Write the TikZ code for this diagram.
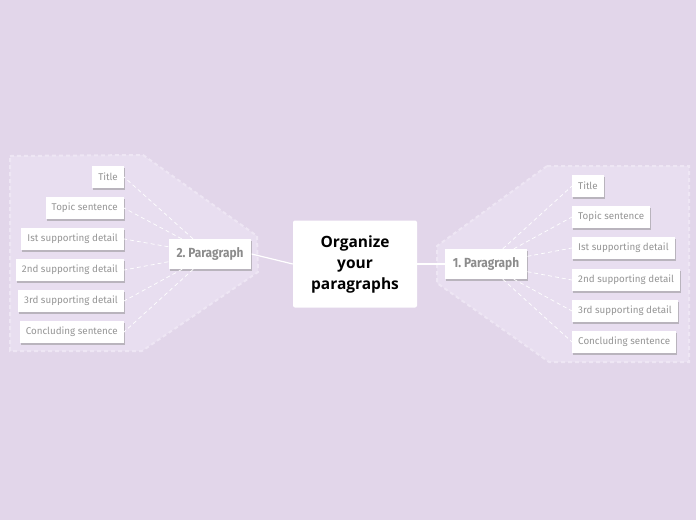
\documentclass[tikz,border=0pt]{standalone}
\usepackage{fontspec}
\setmainfont{Open Sans}
\newfontfamily\leaf{Fira Sans}
\usetikzlibrary{shadows}
\definecolor{bg}{HTML}{E2D6EA}
\definecolor{zone}{HTML}{E8DEF0}
\definecolor{txt}{HTML}{959595}
\definecolor{ptxt}{HTML}{8C8C8C}
\begin{document}
\begin{tikzpicture}[x=1pt,y=-1pt,
  leafbox/.style={fill=white,inner xsep=6pt,inner ysep=0pt,minimum height=22pt,
    font=\leaf\fontsize{9.8}{10}\selectfont, text=txt,
    drop shadow={shadow xshift=1pt,shadow yshift=-1.5pt,fill=black!45,opacity=0.5}},
  parbox/.style={fill=white,inner xsep=8pt,minimum height=30pt,
    font=\leaf\bfseries\fontsize{13.2}{14}\selectfont\addfontfeature{FakeStretch=0.9}, text=ptxt,
    drop shadow={shadow xshift=1pt,shadow yshift=-1.5pt,fill=black!45,opacity=0.5}},
  mainbox/.style={fill=white,rounded corners=2pt,minimum width=124pt,minimum height=87pt,
    align=center,font=\bfseries\fontsize{15.5}{21}\selectfont},
  link/.style={white,line width=1.2pt},
  dlink/.style={white,line width=0.7pt,dash pattern=on 4pt off 3pt},
  zonestyle/.style={fill=zone,draw=white!25!zone,line width=2pt,dash pattern=on 4pt off 3pt}
]
\useasboundingbox (0,0) rectangle (696,520);
\fill[bg] (0,0) rectangle (696,520);
% zones
\path[zonestyle] (10,156) -- (143,155) -- (257,236) -- (258,272) -- (142,351) -- (10,351) -- cycle;
\path[zonestyle] (547,166) -- (689,166) -- (689,362) -- (549,362) -- (437,283) -- (437,246) -- cycle;
% central
\node[mainbox] (c) at (355,264) {Organize\\your\\paragraphs};
\node[parbox] (p2) at (210,254) {2.\ Paragraph};
\node[parbox] (p1) at (486,264) {1.\ Paragraph};
% left leaves
\node[leafbox,anchor=east] (l1) at (124,177) {Title};
\node[leafbox,anchor=east] (l2) at (124,208) {Topic sentence};
\node[leafbox,anchor=east] (l3) at (124,239) {Ist supporting detail};
\node[leafbox,anchor=east] (l4) at (124,270) {2nd supporting detail};
\node[leafbox,anchor=east] (l5) at (124,301) {3rd supporting detail};
\node[leafbox,anchor=east] (l6) at (124,332) {Concluding sentence};
% right leaves
\node[leafbox,anchor=west] (r1) at (572,186) {Title};
\node[leafbox,anchor=west] (r2) at (572,217) {Topic sentence};
\node[leafbox,anchor=west] (r3) at (572,248) {Ist supporting detail};
\node[leafbox,anchor=west] (r4) at (572,280) {2nd supporting detail};
\node[leafbox,anchor=west] (r5) at (572,311) {3rd supporting detail};
\node[leafbox,anchor=west] (r6) at (572,342) {Concluding sentence};
% links
\draw[link] (p2.east) -- (c.west);
\draw[link] (c.east) -- (p1.west);
\foreach \i in {1,...,6}{
  \draw[dlink] (p2) -- (l\i.east);
  \draw[dlink] (p1) -- (r\i.west);
}
\end{tikzpicture}
\end{document}
